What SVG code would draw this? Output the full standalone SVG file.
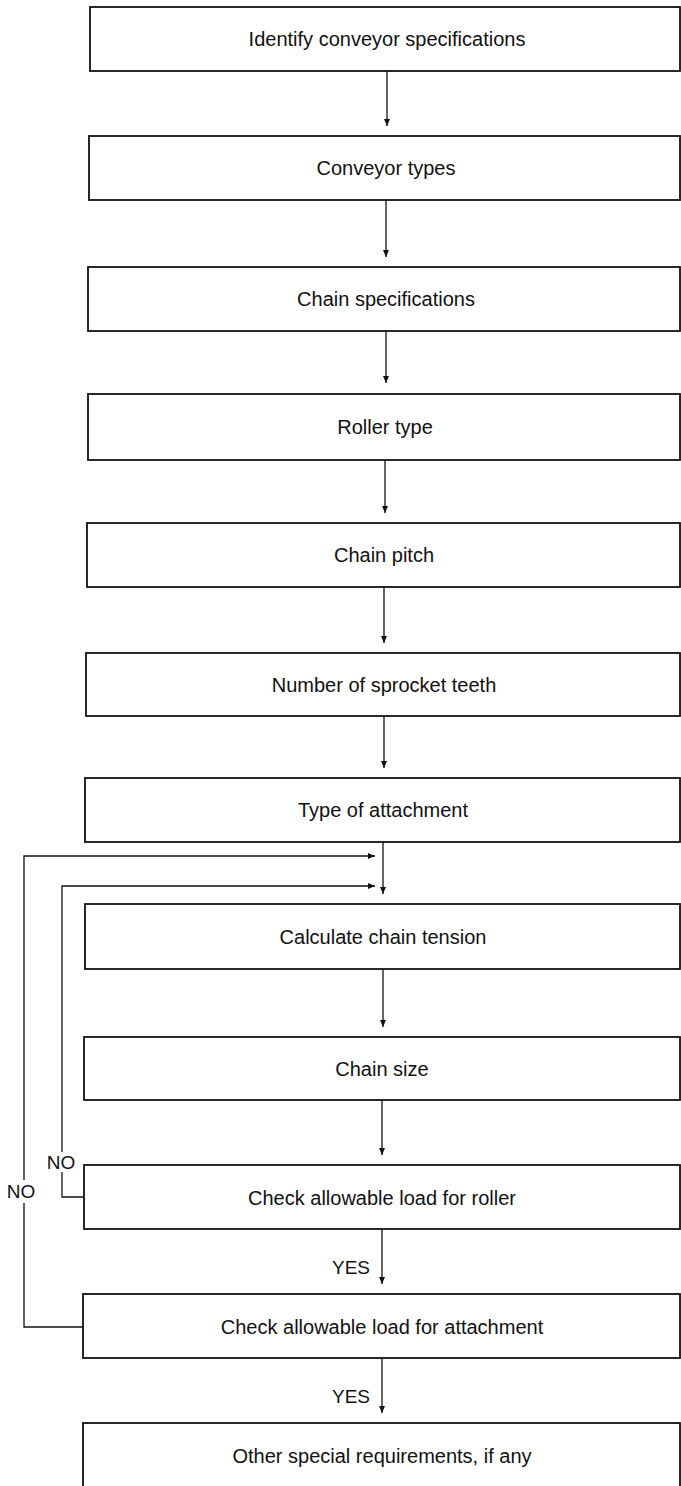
<svg xmlns="http://www.w3.org/2000/svg" width="681" height="1486" viewBox="0 0 681 1486">
  <style>
    .box { fill: #ffffff; stroke: #111111; stroke-width: 1.8; }
    .lbl { font-family: "Liberation Sans", Arial, sans-serif; font-size: 20px; fill: #111111; text-anchor: middle; }
    .tag { font-family: "Liberation Sans", Arial, sans-serif; font-size: 19px; fill: #111111; text-anchor: middle; }
    .wire { fill: none; stroke: #111111; stroke-width: 1.3; }
  </style>
  <defs>
    <marker id="head" markerUnits="userSpaceOnUse" markerWidth="8" markerHeight="7" refX="7" refY="3" orient="auto">
      <path d="M0,0 L7,3 L0,6 z" fill="#111111"/>
    </marker>
  </defs>
  <rect width="681" height="1486" fill="#ffffff"/>

  <g id="connectors">
    <path class="wire" d="M387,71 V126" marker-end="url(#head)"/>
    <path class="wire" d="M386,200 V257" marker-end="url(#head)"/>
    <path class="wire" d="M386,331 V383" marker-end="url(#head)"/>
    <path class="wire" d="M385,460 V513" marker-end="url(#head)"/>
    <path class="wire" d="M384,587 V643" marker-end="url(#head)"/>
    <path class="wire" d="M384,716 V768" marker-end="url(#head)"/>
    <path class="wire" d="M383,842 V894" marker-end="url(#head)"/>
    <path class="wire" d="M383,969 V1027" marker-end="url(#head)"/>
    <path class="wire" d="M382,1100 V1155" marker-end="url(#head)"/>
    <path class="wire" d="M382,1229 V1284" marker-end="url(#head)"/>
    <path class="wire" d="M382,1358 V1413" marker-end="url(#head)"/>
    <!-- retry loop from the roller check -->
    <path class="wire" d="M84,1197 H62 V1172"/>
    <path class="wire" d="M62,1152 V886 H375" marker-end="url(#head)"/>
    <!-- retry loop from the attachment check -->
    <path class="wire" d="M83,1327 H24 V1203"/>
    <path class="wire" d="M24,1180 V856 H375" marker-end="url(#head)"/>
    <text class="tag" x="61" y="1169">NO</text>
    <text class="tag" x="21" y="1198">NO</text>
    <text class="tag" x="351" y="1274">YES</text>
    <text class="tag" x="351" y="1403">YES</text>
  </g>

  <g id="identify-specs">
    <rect class="box" x="90" y="7" width="590" height="64"/>
    <text class="lbl" x="387" y="46">Identify conveyor specifications</text>
  </g>
  <g id="conveyor-types">
    <rect class="box" x="89" y="136" width="591" height="64"/>
    <text class="lbl" x="386" y="175">Conveyor types</text>
  </g>
  <g id="chain-specs">
    <rect class="box" x="88" y="267" width="592" height="64"/>
    <text class="lbl" x="386" y="306">Chain specifications</text>
  </g>
  <g id="roller-type">
    <rect class="box" x="88" y="394" width="592" height="66"/>
    <text class="lbl" x="385" y="434">Roller type</text>
  </g>
  <g id="chain-pitch">
    <rect class="box" x="87" y="523" width="593" height="64"/>
    <text class="lbl" x="384" y="562">Chain pitch</text>
  </g>
  <g id="sprocket-teeth">
    <rect class="box" x="86" y="653" width="594" height="63"/>
    <text class="lbl" x="384" y="692">Number of sprocket teeth</text>
  </g>
  <g id="attachment-type">
    <rect class="box" x="85" y="778" width="595" height="64"/>
    <text class="lbl" x="383" y="817">Type of attachment</text>
  </g>
  <g id="chain-tension">
    <rect class="box" x="85" y="904" width="595" height="65"/>
    <text class="lbl" x="383" y="944">Calculate chain tension</text>
  </g>
  <g id="chain-size">
    <rect class="box" x="84" y="1037" width="596" height="63"/>
    <text class="lbl" x="382" y="1076">Chain size</text>
  </g>
  <g id="roller-load">
    <rect class="box" x="84" y="1165" width="596" height="64"/>
    <text class="lbl" x="382" y="1205">Check allowable load for roller</text>
  </g>
  <g id="attachment-load">
    <rect class="box" x="83" y="1294" width="597" height="64"/>
    <text class="lbl" x="382" y="1334">Check allowable load for attachment</text>
  </g>
  <g id="special-reqs">
    <rect class="box" x="83" y="1423" width="597" height="70"/>
    <text class="lbl" x="382" y="1463">Other special requirements, if any</text>
  </g>
</svg>
